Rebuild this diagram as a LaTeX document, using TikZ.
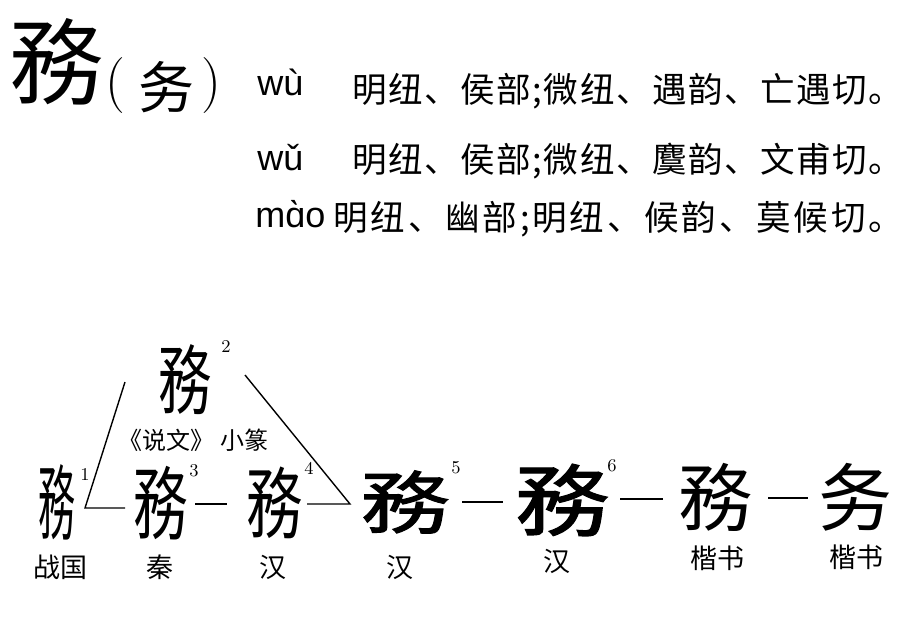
\documentclass[tikz,border=0pt]{standalone}
\usepackage{fontspec}
\usepackage{graphicx}
\newfontfamily\cjk{Noto Sans CJK SC}
\newfontfamily\cjkrow[LetterSpace=4.3]{Noto Sans CJK SC}
\newfontfamily\cjkrowwide[LetterSpace=7.9]{Noto Sans CJK SC}
\newfontfamily\cjkmed[FakeBold=1.6]{Noto Sans CJK SC}
\newfontfamily\pyfont{Liberation Sans}
\tikzset{
  row/.style={anchor=west, inner sep=0pt, font=\cjkrow\fontsize{17.3pt}{19pt}\selectfont},
  py/.style={anchor=base west, inner sep=0pt, font=\pyfont\fontsize{18pt}{20pt}\selectfont},
  glyph/.style={inner sep=0pt, font=\cjk},
  lab/.style={inner sep=0pt, font=\cjk\fontsize{13.5pt}{15pt}\selectfont},
  num/.style={inner sep=0pt, font=\fontsize{9pt}{10pt}\selectfont},
  paren/.style={inner sep=0pt, font=\fontsize{28pt}{30pt}\selectfont},
  link/.style={line width=0.7pt},
}
\begin{document}
\begin{tikzpicture}[x=0.5pt,y=-0.5pt]
\useasboundingbox[fill=white] (0,0) rectangle (916,627);
% heading
\node[glyph, font=\cjk\fontsize{47pt}{50pt}\selectfont] (head) at (57,62) {務};
\node[paren] (lp) at (115,86) {(};
\node[glyph, font=\cjk\fontsize{28pt}{30pt}\selectfont] (simp) at (166,87) {务};
\node[paren] (rp) at (211,86) {)};
% readings
\node[py] (py1) at (257,95) {wù};
\node[row] (r1) at (352,91) {明纽、侯部;微纽、遇韵、亡遇切。};
\node[py] (py2) at (257,170) {wǔ};
\node[row] (r2) at (352,161) {明纽、侯部;微纽、麌韵、文甫切。};
\node[py] (py3) at (255,227) {mɑ̀o};
\node[row, font=\cjkrowwide\fontsize{17.3pt}{19pt}\selectfont] (r3) at (333,219) {明纽、幽部;明纽、候韵、莫候切。};
% glyphs
\node[glyph, font=\cjk\fontsize{41pt}{44pt}\selectfont] (g1) at (57,502) {\scalebox{0.45}[1]{務}};
\node[glyph, font=\cjk\fontsize{38pt}{40pt}\selectfont] (g2) at (185,380) {\scalebox{0.7}[1]{務}};
\node[glyph, font=\cjk\fontsize{40pt}{42pt}\selectfont] (g3) at (161,503) {\scalebox{0.68}[1]{務}};
\node[glyph, font=\cjk\fontsize{39pt}{42pt}\selectfont] (g4) at (275,503) {\scalebox{0.72}[1]{務}};
\node[glyph, font=\cjkmed\fontsize{34pt}{36pt}\selectfont] (g5) at (405,502) {\scalebox{1.3}[1]{務}};
\node[glyph, font=\cjkmed\fontsize{39pt}{42pt}\selectfont] (g6) at (562,500) {\scalebox{1.2}[1]{務}};
\node[glyph, font=\cjk\fontsize{37pt}{40pt}\selectfont] (g7) at (715,497) {務};
\node[glyph, font=\cjk\fontsize{37pt}{40pt}\selectfont] (g8) at (855,497) {务};
% numbers
\node[num] (n1) at (85,474) {1};
\node[num] (n2) at (226,346) {2};
\node[num] (n3) at (194,471) {3};
\node[num] (n4) at (309,468) {4};
\node[num] (n5) at (456,468) {5};
\node[num] (n6) at (612,466) {6};
% labels
\node[lab, font=\cjk\fontsize{12pt}{14pt}\selectfont] (sw) at (193,440) {《说文》\hspace{3pt}小篆};
\node[lab] (l1) at (60,567) {战国};
\node[lab] (l3) at (160,567) {秦};
\node[lab] (l4) at (273,567) {汉};
\node[lab] (l5) at (400,567) {汉};
\node[lab] (l6) at (557,561) {汉};
\node[lab] (l7) at (717,558) {楷书};
\node[lab] (l8) at (856,557) {楷书};
% connectors
\coordinate (tl) at (125,382);
\coordinate (bl) at (85,508);
\coordinate (bl2) at (125,508);
\coordinate (tr) at (245,375);
\coordinate (br) at (350,504);
\coordinate (br2) at (307,504);
\draw[link] (tl) -- (bl) -- (bl2);
\draw[link] (tr) -- (br) -- (br2);
\coordinate (a34) at (195,504); \coordinate (b34) at (227,504);
\coordinate (a56) at (462,502); \coordinate (b56) at (503,502);
\coordinate (a67) at (620,499); \coordinate (b67) at (663,499);
\coordinate (a78) at (768,498); \coordinate (b78) at (808,498);
\draw[link] (a34) -- (b34);
\draw[link] (a56) -- (b56);
\draw[link] (a67) -- (b67);
\draw[link] (a78) -- (b78);
\end{tikzpicture}
\end{document}
